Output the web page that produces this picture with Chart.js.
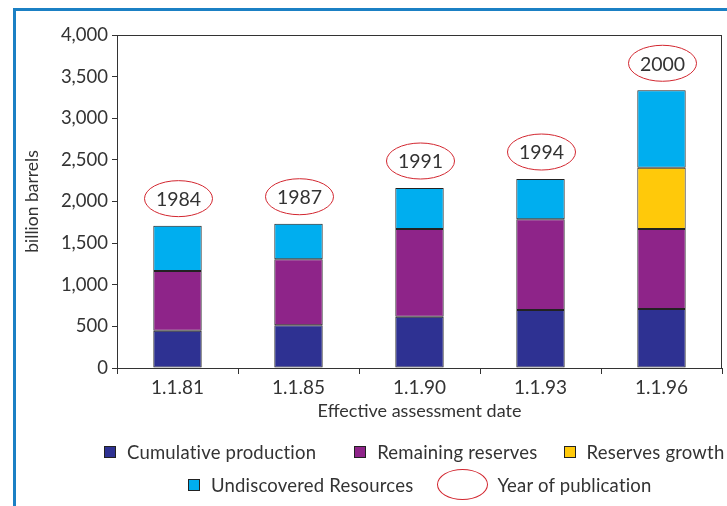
<!DOCTYPE html>
<html>
<head>
<meta charset="utf-8">
<script src="https://cdn.jsdelivr.net/npm/chart.js@4"></script>
<style>
  html, body { margin: 0; padding: 0; background: #fff; }
  #wrap { position: relative; width: 727px; height: 506px; overflow: hidden; font-family: Lato, sans-serif; color: #333; }
  #frame { position: absolute; left: 13px; top: 8px; width: 730px; height: 520px; border-left: 3px solid #1b80c4; border-top: 3px solid #1b80c4; box-sizing: border-box; }
  canvas { position: absolute; left: 0; top: 0; }
  .row { position: absolute; display: flex; align-items: center; white-space: nowrap; font-size: 18.5px; letter-spacing: 0.2px; color: #333; }
  .item { display: flex; align-items: center; margin-right: 26px; }
  #legend1 .item:nth-child(1) { margin-right: 38px; }
  #legend2 .item:nth-child(1) { margin-right: 24px; }
  .sw { width: 10px; height: 10px; border: 1px solid #222; margin-right: 11px; }
  .ell { width: 51px; height: 31px; border: 1px solid #d2262f; border-radius: 50%; box-sizing: border-box; margin-right: 9px; }
</style>
</head>
<body>
<div id="wrap">
  <div id="frame"></div>
  <canvas id="chart" width="727" height="506"></canvas>
  <div class="row" id="legend1" style="left:104px; top:441px;"></div>
  <div class="row" id="legend2" style="left:188px; top:469px;"></div>
</div>
<script>
const dates = ['1.1.81', '1.1.85', '1.1.90', '1.1.93', '1.1.96'];
const pubYears = ['1984', '1987', '1991', '1994', '2000'];
const cumulativeProduction = [448, 513, 616, 697, 709];
const remainingReserves = [717, 793, 1054, 1089, 961];
const reservesGrowth = [0, 0, 0, 0, 736];
const undiscovered = [545, 427, 492, 484, 930];

const colors = {
    production: '#2e3192',
    remaining: '#8e2489',
    growth: '#ffc90a',
    undiscovered: '#00aeef'
};

// ellipse with the publication year above each stack
const yearRings = {
    id: 'yearRings',
    afterDatasetsDraw(chart) {
        const ctx = chart.ctx;
        const x = chart.scales.x, y = chart.scales.y;
        ctx.save();
        pubYears.forEach((year, i) => {
            const total = chart.data.datasets.reduce((s, ds) => s + ds.data[i], 0);
            const cx = x.getPixelForValue(i) + 1;
            const cy = y.getPixelForValue(total) - 27;
            ctx.beginPath();
            ctx.ellipse(cx, cy, 34, 18, 0, 0, Math.PI * 2);
            ctx.strokeStyle = '#d2262f';
            ctx.lineWidth = 1;
            ctx.stroke();
            ctx.fillStyle = '#333';
            ctx.font = '19.5px Lato';
            ctx.textAlign = 'center';
            ctx.textBaseline = 'middle';
            ctx.fillText(year, cx, cy + 1);
        });
        // plot frame
        const a = chart.chartArea;
        ctx.strokeStyle = '#333';
        ctx.lineWidth = 1;
        ctx.strokeRect(a.left + 0.5, a.top + 0.5, a.right - a.left - 1, a.bottom - a.top);
        ctx.restore();
    }
};

const chart = new Chart(document.getElementById('chart'), {
    type: 'bar',
    data: {
        labels: dates,
        datasets: [
            { label: 'Cumulative production', data: cumulativeProduction, backgroundColor: colors.production },
            { label: 'Remaining reserves', data: remainingReserves, backgroundColor: colors.remaining },
            { label: 'Reserves growth', data: reservesGrowth, backgroundColor: colors.growth },
            { label: 'Undiscovered Resources', data: undiscovered, backgroundColor: colors.undiscovered }
        ].map(ds => Object.assign(ds, {
            borderColor: '#222',
            borderWidth: 1,
            borderSkipped: false,
            barPercentage: 0.4,
            categoryPercentage: 1
        }))
    },
    options: {
        responsive: false,
        animation: false,
        layout: { padding: { left: 22, top: 35, right: 5, bottom: 80 } },
        plugins: {
            legend: { display: false },
            tooltip: { enabled: false }
        },
        scales: {
            x: {
                stacked: true,
                grid: { offset: true, drawOnChartArea: false, tickLength: 6, color: '#333' },
                border: { color: '#333' },
                ticks: { color: '#333', font: { family: 'Lato', size: 19 }, padding: 2 },
                title: { display: true, text: 'Effective assessment date', color: '#333', font: { family: 'Lato', size: 18 }, padding: { top: -3 } },
                afterFit: s => { s.height = 58; }
            },
            y: {
                stacked: true,
                min: 0,
                max: 4000,
                grid: { drawOnChartArea: false, tickLength: 5, color: '#333' },
                border: { color: '#333' },
                ticks: { stepSize: 500, color: '#333', font: { family: 'Lato', size: 18.5 }, padding: 4 },
                title: { display: true, text: 'billion barrels', color: '#333', font: { family: 'Lato', size: 17.5 }, padding: 0 },
                afterFit: s => { s.width = 95; }
            }
        }
    },
    plugins: [yearRings]
});

// html legend
const legendRows = [[0, 1, 2], [3]];
legendRows.forEach((row, r) => {
    const el = document.getElementById('legend' + (r + 1));
    row.forEach(i => {
        const ds = chart.data.datasets[i];
        el.insertAdjacentHTML('beforeend',
            `<div class="item"><div class="sw" style="background:${ds.backgroundColor}"></div>${ds.label}</div>`);
    });
});
document.getElementById('legend2').insertAdjacentHTML('beforeend',
    '<div class="item"><div class="ell"></div>Year of publication</div>');
</script>
</body>
</html>
